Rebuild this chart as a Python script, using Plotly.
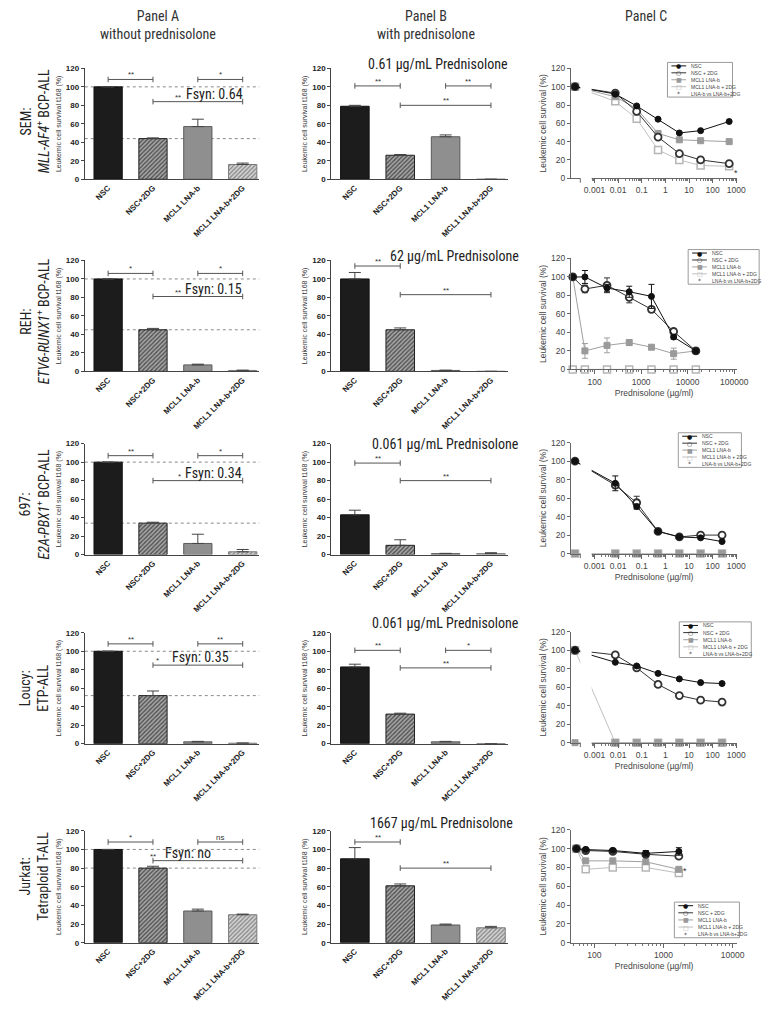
import math
import plotly.graph_objects as go

W, H = 781, 1019

# ---------------- data ----------------
categories = ["NSC", "NSC+2DG", "MCL1 LNA-b", "MCL1 LNA-b+2DG"]
cell_lines = ["SEM:", "REH:", "697:", "Loucy:", "Jurkat:"]
subtypes = ["<i>MLL-AF4</i><sup>+</sup> BCP-ALL", "<i>ETV6-RUNX1</i><sup>+</sup> BCP-ALL",
            "<i>E2A-PBX1</i><sup>+</sup> BCP-ALL", "ETP-ALL", "Tetraploid T-ALL"]

# Panel A: without prednisolone (survival t168, %), mean and SEM
a_sem = [100, 44, 57, 16]
a_sem_err = [0, 0.8, 8, 1.5]
a_reh = [100, 45, 7, 1]
a_reh_err = [0, 1.5, 0.8, 0.3]
a_697 = [100, 34, 12, 3]
a_697_err = [0, 1, 10, 2.5]
a_loucy = [100, 52, 2, 0.5]
a_loucy_err = [0, 5, 0.5, 0.2]
a_jurkat = [100, 80, 34, 30]
a_jurkat_err = [0, 2, 2, 0.7]
fsyn_labels = ["Fsyn: 0.64", "Fsyn: 0.15", "Fsyn: 0.34", "Fsyn: 0.35", "Fsyn: no"]
# significance: (NSC vs NSC+2DG, LNA-b vs LNA-b+2DG, NSC+2DG vs LNA-b+2DG)
sig_a = [["**", "*", "**"], ["*", "*", "**"], ["**", "*", "*"], ["**", "**", "*"], ["*", "ns", "**"]]

# Panel B: with prednisolone
b_sem = [79, 26, 46, 0]
b_sem_err = [1, 0.8, 2, 0]
b_reh = [100, 45, 1, 0]
b_reh_err = [7, 2, 0.3, 0]
b_697 = [43, 10, 1, 1]
b_697_err = [5, 6, 0.3, 1]
b_loucy = [83, 32, 2, 0]
b_loucy_err = [3, 1, 0.5, 0]
b_jurkat = [90, 61, 19, 16]
b_jurkat_err = [12, 2, 1, 1.5]
b_titles = ["0.61 \u00b5g/mL Prednisolone", "62 \u00b5g/mL Prednisolone", "0.061 \u00b5g/mL Prednisolone",
            "0.061 \u00b5g/mL Prednisolone", "1667 \u00b5g/mL Prednisolone"]
sig_b = [["**", "**", "**"], ["**", None, "**"], ["**", None, "**"], ["**", "*", "**"], ["**", None, "**"]]

# Panel C: dose response (prednisolone, ug/ml); first point = no prednisolone control
conc_sem = [0.00015, 0.0076, 0.061, 0.49, 3.9, 31, 500]
c_sem_nsc = [100, 92, 79, 64.5, 49.5, 52, 62]
c_sem_nsc2dg = [100, 93, 73, 45, 27, 20, 16]
c_sem_lna = [100, 89, 76, 49, 42, 41, 40]
c_sem_lna2dg = [100, 84, 65, 31, 20, 14, 13]

conc_reh = [34, 62, 185, 555, 1667, 5000, 15000]
c_reh_nsc = [100, 100, 88, 84, 79, 35, 20]
c_reh_nsc_err = [0, 7, 4, 6, 13, 2, 1]
c_reh_nsc2dg = [100, 87, 91, 78, 65, 41, 20]
c_reh_nsc2dg_err = [0, 4, 8, 6, 3, 3, 1]
c_reh_lna = [100, 20, 26, 29, 24, 17, 20]
c_reh_lna_err = [0, 8, 8, 3, 2, 6, 1]
c_reh_lna2dg = [0, 0, 0, 0, 0, 0, 0]

conc_697 = [0.00015, 0.0076, 0.061, 0.49, 3.9, 31, 250]
c_697_nsc = [100, 76, 51, 24, 18, 17, 13]
c_697_nsc_err = [0, 8, 2, 1, 1, 1, 1]
c_697_nsc2dg = [100, 74, 55, 24, 18, 20, 20]
c_697_nsc2dg_err = [0, 3, 7, 1, 1, 1, 1]
c_697_lna = [0, 0, 0, 0, 0, 0, 0]
c_697_lna2dg = [0, 0, 0, 0, 0, 0, 0]

conc_loucy = [0.00015, 0.0076, 0.061, 0.49, 3.9, 31, 250]
c_loucy_nsc = [100, 87, 83, 75, 69, 65, 64]
c_loucy_nsc2dg = [100, 95, 81, 63, 51, 46, 44]
c_loucy_lna = [0, 0, 0, 0, 0, 0, 0]
c_loucy_lna2dg = [100, 0, 0, 0, 0, 0, 0]

conc_jurkat = [55, 75, 185, 555, 1667]
c_jur_nsc = [100, 99, 98, 95, 97]
c_jur_nsc_err = [0, 1, 1, 3, 4]
c_jur_nsc2dg = [100, 98, 97, 94, 92]
c_jur_nsc2dg_err = [0, 1, 1, 2, 2]
c_jur_lna = [100, 87, 87, 86, 78]
c_jur_lna2dg = [100, 78, 80, 80, 74]

legend_labels = ["NSC", "NSC + 2DG", "MCL1 LNA-b", "MCL1 LNA-b + 2DG", "LNA-b vs LNA-b+2DG"]

# ---------------- styling / layout ----------------
NARROW = "Liberation Sans Narrow, Roboto Condensed, DejaVu Sans Condensed, Arial Narrow, sans-serif"
SANS = "Liberation Sans, Arial, Helvetica, sans-serif"

col_x = [(86, 263), (336, 515), (579, 748)]
row_y_ab = [(64, 176), (258, 370), (443, 555), (634, 746), (834, 947)]
row_y_c = [(64, 175), (256, 368), (442, 554), (633, 745), (833, 947)]
row_label_y = [118, 320, 505, 690, 880]
b_title_y = [60, 253, 443, 624, 826]
b_title_right = [517, 528, 528, 528, 522]

def fx(p):
    return p / W

def fy(p):
    return 1 - p / H

fig = go.Figure()
annotations = []
shapes = []
layout = {}

def names(k):
    s = "" if k == 1 else str(k)
    return "xaxis" + s, "yaxis" + s, "x" + s, "y" + s

bar_colors = ["#1c1c1c", "#555555", "#8f8f8f", "#d8d8d8"]
pat_shape = ["", "/", "", "/"]
pat_fg = ["#1c1c1c", "#111111", "#8f8f8f", "#8a8a8a"]
pat_bg = ["#1c1c1c", "#808080", "#8f8f8f", "#ececec"]
bar_line = ["#111111", "#222222", "#5a5a5a", "#7a7a7a"]

a_vals = [a_sem, a_reh, a_697, a_loucy, a_jurkat]
a_errs = [a_sem_err, a_reh_err, a_697_err, a_loucy_err, a_jurkat_err]
b_vals = [b_sem, b_reh, b_697, b_loucy, b_jurkat]
b_errs = [b_sem_err, b_reh_err, b_697_err, b_loucy_err, b_jurkat_err]

# bracket heights (data units) : (pair01, pair23, pair13)
a_br_h = [(108, 108, 84), (106, 106, 81), (107, 107, 80), (108, 108, 85), (108, 108, 88)]
b_br_h = [(101, 101, 80), (114, 114, 83), (99, 99, 80), (101, 101, 82), (108, 108, 80)]
a_star_x = [1.55, 1.55, 1.6, 1.1, 1.0]
a_fsyn_x = [2.37, 2.35, 2.35, 2.05, 1.78]


def bracket(xr, yr, i, j, h, label, label_x=None, cap=3):
    col = "#555555"
    shapes.append(dict(type="line", xref=xr, yref=yr, x0=i, x1=j, y0=h, y1=h, line=dict(color=col, width=1)))
    for xx in (i, j):
        shapes.append(dict(type="line", xref=xr, yref=yr, x0=xx, x1=xx, y0=h - cap, y1=h + cap,
                           line=dict(color=col, width=1)))
    if label:
        annotations.append(dict(xref=xr, yref=yr, x=(i + j) / 2 if label_x is None else label_x, y=h,
                                text=label, showarrow=False, yanchor="bottom", yshift=-2,
                                font=dict(size=8, color="#333", family=SANS)))


def bar_panel(k, vals, errs, dom_x, dom_y, sigs, br_h, dashed=False, fsyn=None, star_x=None, fsyn_x=None):
    xa, ya, xr, yr = names(k)
    fig.add_trace(go.Bar(
        x=list(range(len(categories))), y=vals, width=0.63, xaxis=xr, yaxis=yr,
        marker=dict(color=bar_colors, line=dict(color=bar_line, width=1),
                    pattern=dict(shape=pat_shape, fgcolor=pat_fg, bgcolor=pat_bg, size=3, solidity=0.5)),
        error_y=dict(type="data", array=errs, arrayminus=[0] * len(errs), symmetric=False,
                     color="#444", thickness=1, width=6),
        showlegend=False))
    layout[xa] = dict(domain=[fx(dom_x[0]), fx(dom_x[1])], anchor=yr, range=[-0.52, 3.37],
                      tickmode="array", tickvals=list(range(len(categories))), ticktext=categories,
                      tickangle=-45, showline=True, linecolor="#444", linewidth=1, ticks="",
                      showgrid=False, zeroline=False,
                      tickfont=dict(size=8, family=SANS, color="#222", weight="bold"))
    layout[ya] = dict(domain=[fy(dom_y[1]), fy(dom_y[0])], anchor=xr, range=[0, 120],
                      tickvals=[0, 20, 40, 60, 80, 100, 120], showline=True, linecolor="#444",
                      linewidth=1, ticks="outside", ticklen=3, tickcolor="#444", showgrid=False,
                      zeroline=False, tickfont=dict(size=8, family=SANS, color="#222", weight="bold"),
                      title=dict(text="Leukemic cell survival t168 (%)", standoff=3,
                                 font=dict(size=7, family=SANS, color="#333")))
    if dashed:
        for lv in (vals[0], vals[1]):
            shapes.append(dict(type="line", xref=xr + " domain", yref=yr, x0=0, x1=1.0, y0=lv, y1=lv,
                               line=dict(color="#8a8a8a", width=1, dash="dot"), layer="below"))
    s01, s23, s13 = sigs
    h01, h23, h13 = br_h
    if s01:
        bracket(xr, yr, 0, 1, h01, s01)
    if s23:
        bracket(xr, yr, 2, 3, h23, s23)
    if s13:
        bracket(xr, yr, 1, 3, h13, s13, label_x=star_x)
    if fsyn:
        annotations.append(dict(xref=xr, yref=yr, x=fsyn_x, y=h13, text=fsyn, showarrow=False,
                                yanchor="bottom", yshift=-2,
                                font=dict(size=14, color="#222", family=NARROW)))


series_style = {
    "nsc": dict(marker=dict(symbol="circle", size=6, color="#111111", line=dict(color="#111111", width=1)),
                line=dict(color="#111111", width=1)),
    "nsc2dg": dict(marker=dict(symbol="circle", size=7, color="white", line=dict(color="#333333", width=1.8)),
                   line=dict(color="#333333", width=1)),
    "lna": dict(marker=dict(symbol="square", size=6, color="#9a9a9a", line=dict(color="#9a9a9a", width=1)),
                line=dict(color="#a0a0a0", width=1)),
    "lna2dg": dict(marker=dict(symbol="square", size=7, color="white", line=dict(color="#b5b5b5", width=1.5)),
                   line=dict(color="#c0c0c0", width=1)),
}


def dose_panel(k, conc, series, dom_x, dom_y, xrange_log, tickvals, ticktext, xtitle, brk=None):
    xa, ya, xr, yr = names(k)
    for key, yv, err in series:
        st = series_style[key]
        kw = {}
        if err is not None:
            kw["error_y"] = dict(type="data", array=err, color=st["line"]["color"], thickness=1, width=3)
        fig.add_trace(go.Scatter(x=conc, y=yv, mode="lines+markers", xaxis=xr, yaxis=yr,
                                 marker=st["marker"], line=st["line"], showlegend=False, cliponaxis=False, **kw))
    lo, hi = xrange_log
    minor_vals = []
    for e in range(math.floor(lo), math.ceil(hi) + 1):
        for d in range(2, 10):
            v = d * 10 ** e
            lv = math.log10(v)
            if lv < hi and lv > (brk[1] if brk else lo):
                minor_vals.append(v)
    layout[xa] = dict(domain=[fx(dom_x[0]), fx(dom_x[1])], anchor=yr, type="log", range=[lo, hi],
                      tickmode="array", tickvals=tickvals, ticktext=ticktext, showline=True,
                      linecolor="#666", linewidth=1, ticks="outside", ticklen=4, tickcolor="#666",
                      showgrid=False, zeroline=False,
                      minor=dict(tickmode="array", tickvals=minor_vals, ticks="outside", ticklen=2,
                                 tickcolor="#777", showgrid=False),
                      tickfont=dict(size=8.5, family=SANS, color="#444"))
    if xtitle:
        layout[xa]["title"] = dict(text=xtitle, standoff=4, font=dict(size=8.5, family=SANS, color="#444"))
    layout[ya] = dict(domain=[fy(dom_y[1]), fy(dom_y[0])], anchor=xr, range=[0, 120],
                      tickvals=[0, 20, 40, 60, 80, 100, 120], showline=True, linecolor="#666", linewidth=1,
                      ticks="outside", ticklen=3, tickcolor="#666", showgrid=False, zeroline=False,
                      tickfont=dict(size=8.5, family=SANS, color="#444"),
                      title=dict(text="Leukemic cell survival (%)", standoff=2,
                                 font=dict(size=8.5, family=SANS, color="#444")))
    if brk:
        b0 = (brk[0] - lo) / (hi - lo)
        b1 = (brk[1] - lo) / (hi - lo)
        shapes.append(dict(type="rect", xref=xr + " domain", yref=yr + " domain", x0=b0, x1=b1,
                           y0=-0.02, y1=1.0, fillcolor="white", line=dict(width=0), layer="above"))
        shapes.append(dict(type="line", xref=xr + " domain", yref=yr + " domain", x0=b0, x1=b0,
                           y0=-0.04, y1=0.0, line=dict(color="#666", width=1), layer="above"))


def legend_box(box):
    x0, y0, x1, y1 = box
    shapes.append(dict(type="rect", xref="paper", yref="paper", x0=fx(x0), x1=fx(x1), y0=fy(y1), y1=fy(y0),
                       line=dict(color="#9a9a9a", width=1), fillcolor="white", layer="above"))
    glyphs = [("\u25cf", "#111", "#111"), ("\u25cb", "#222", "#333"), ("\u25a0", "#999", "#a0a0a0"),
              ("\u25a1", "#aaa", "#c0c0c0"), ("*", "#333", None)]
    rh = (y1 - y0) / 5
    for i, (g, gc, lc) in enumerate(glyphs):
        yc = y0 + rh * (i + 0.5)
        if lc:
            shapes.append(dict(type="line", xref="paper", yref="paper", x0=fx(x0 + 4), x1=fx(x0 + 19),
                               y0=fy(yc), y1=fy(yc), line=dict(color=lc, width=1), layer="above"))
        annotations.append(dict(xref="paper", yref="paper", x=fx(x0 + 11.5), y=fy(yc), text=g, showarrow=False,
                                xanchor="center", yanchor="middle", borderpad=0,
                                font=dict(size=6, color=gc, family="DejaVu Sans")))
        annotations.append(dict(xref="paper", yref="paper", x=fx(x0 + 23), y=fy(yc), text=legend_labels[i],
                                showarrow=False, xanchor="left", yanchor="middle", borderpad=0,
                                font=dict(size=5, color="#444", family=SANS)))


# ----- Panel A & B -----
for r in range(5):
    kA = r * 3 + 1
    kB = r * 3 + 2
    bar_panel(kA, a_vals[r], a_errs[r], col_x[0], row_y_ab[r], sig_a[r], a_br_h[r], dashed=True,
              fsyn=fsyn_labels[r], star_x=a_star_x[r], fsyn_x=a_fsyn_x[r])
    bar_panel(kB, b_vals[r], b_errs[r], col_x[1], row_y_ab[r], sig_b[r], b_br_h[r])
    annotations.append(dict(xref="paper", yref="paper", x=fx(b_title_right[r]), y=fy(b_title_y[r]),
                            text=b_titles[r], showarrow=False, xanchor="right", yanchor="middle",
                            font=dict(size=14, color="#222", family=NARROW)))
    annotations.append(dict(xref="paper", yref="paper", x=fx(35), y=fy(row_label_y[r]),
                            text=cell_lines[r] + "<br>" + subtypes[r], textangle=-90, showarrow=False,
                            xanchor="center", yanchor="middle",
                            font=dict(size=14, color="#222", family=NARROW)))

# ----- Panel C -----
dec_small = [0.001, 0.01, 0.1, 1, 10, 100, 1000]
dec_small_txt = ["0.001", "0.01", "0.1", "1", "10", "100", "1000"]
dose_panel(3, conc_sem, [("lna2dg", c_sem_lna2dg, None), ("lna", c_sem_lna, None),
                         ("nsc2dg", c_sem_nsc2dg, None), ("nsc", c_sem_nsc, None)],
           col_x[2], row_y_c[0], (-4.0, 3.05), dec_small, dec_small_txt, None, brk=(-3.6, -3.12))
dose_panel(6, conc_reh, [("lna2dg", c_reh_lna2dg, None), ("lna", c_reh_lna, c_reh_lna_err),
                         ("nsc2dg", c_reh_nsc2dg, c_reh_nsc2dg_err), ("nsc", c_reh_nsc, c_reh_nsc_err)],
           col_x[2], row_y_c[1], (1.49, 5.07), [100, 1000, 10000, 100000],
           ["100", "1000", "10000", "100000"], "Prednisolone (\u00b5g/ml)")
dose_panel(9, conc_697, [("lna2dg", c_697_lna2dg, None), ("lna", c_697_lna, None),
                         ("nsc2dg", c_697_nsc2dg, c_697_nsc2dg_err), ("nsc", c_697_nsc, c_697_nsc_err)],
           col_x[2], row_y_c[2], (-4.0, 3.05), dec_small, dec_small_txt, "Prednisolone (\u00b5g/ml)",
           brk=(-3.6, -3.12))
dose_panel(12, conc_loucy, [("lna2dg", c_loucy_lna2dg, None), ("lna", c_loucy_lna, None),
                            ("nsc2dg", c_loucy_nsc2dg, None), ("nsc", c_loucy_nsc, None)],
           col_x[2], row_y_c[3], (-4.0, 3.05), dec_small, dec_small_txt, "Prednisolone (\u00b5g/ml)",
           brk=(-3.6, -3.12))
dose_panel(15, conc_jurkat, [("lna2dg", c_jur_lna2dg, None), ("lna", c_jur_lna, None),
                             ("nsc2dg", c_jur_nsc2dg, c_jur_nsc2dg_err), ("nsc", c_jur_nsc, c_jur_nsc_err)],
           col_x[2], row_y_c[4], (1.66, 4.07), [100, 1000, 10000], ["100", "1000", "10000"],
           "Prednisolone (\u00b5g/ml)")

# significance asterisks next to the curves
annotations.append(dict(xref="paper", yref="paper", x=fx(751), y=fy(163), text="*", showarrow=False,
                        font=dict(size=9, color="#333", family=SANS)))
annotations.append(dict(xref="paper", yref="paper", x=fx(699), y=fy(882), text="*", showarrow=False,
                        font=dict(size=9, color="#333", family=SANS)))

legend_box((677, 58, 743, 93))
legend_box((698, 247, 770, 282))
legend_box((688, 432, 752, 467))
legend_box((689, 623, 762, 659))
legend_box((684, 906, 750, 942))

# headers
for cx, txt in [(160, "Panel A<br>without prednisolone"), (432, "Panel B<br>with prednisolone"), (655, "Panel C")]:
    annotations.append(dict(xref="paper", yref="paper", x=fx(cx), y=fy(1), text=txt, showarrow=False,
                            xanchor="center", yanchor="top", font=dict(size=14, color="#333", family=NARROW)))

fig.update_layout(width=W, height=H, margin=dict(l=0, r=0, t=0, b=0), paper_bgcolor="white",
                  plot_bgcolor="white", showlegend=False, bargap=0.3,
                  annotations=annotations, shapes=shapes, **layout)

fig.write_html("out.html", config={"displayModeBar": False},
               post_script="document.body.style.margin='0';document.body.style.overflow='hidden';")
